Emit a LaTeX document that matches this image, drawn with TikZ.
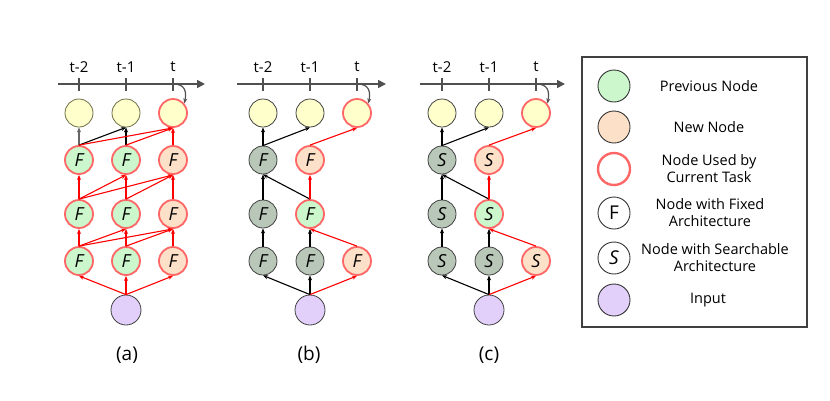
\documentclass[tikz,border=0pt]{standalone}
\usepackage{fontspec}
\setmainfont{Open Sans}
\usepackage{xcolor}
\usepackage{tikz}
\usetikzlibrary{arrows.meta,positioning,calc}

\definecolor{prevgreen}{RGB}{204,247,204}
\definecolor{neworange}{RGB}{253,224,200}
\definecolor{usedred}{RGB}{255,102,102}
\definecolor{outyellow}{RGB}{255,255,204}
\definecolor{outline}{RGB}{110,110,70}
\definecolor{fixgray}{RGB}{184,199,184}
\definecolor{inpurple}{RGB}{226,208,251}
\definecolor{axisgray}{RGB}{80,80,80}

\begin{document}
\begin{tikzpicture}[x=1pt,y=-1pt,
    nd/.style={circle, minimum size=28pt, inner sep=0pt, draw=black!75, line width=0.8pt, font=\fontsize{18}{18}\selectfont\itshape},
    outn/.style={nd, fill=outyellow, draw=outline},
    prev/.style={nd, fill=prevgreen},
    newn/.style={nd, fill=neworange},
    fixn/.style={nd, fill=fixgray},
    inp/.style={nd, fill=inpurple, minimum size=30pt},
    used/.style={draw=usedred, line width=1.8pt},
    arr/.style={-{Stealth[length=5pt,width=4pt]}, line width=1.1pt, black},
    rarr/.style={arr, red},
    taxis/.style={-{Triangle[length=8pt,width=8pt]}, line width=1.6pt, axisgray},
    ttick/.style={line width=1.3pt, axisgray},
    curv/.style={-{Stealth[length=5pt,width=4pt]}, line width=1.2pt, axisgray},
    lbl/.style={font=\fontsize{15}{15}\selectfont},
    subcap/.style={font=\fontsize{19}{19}\selectfont},
    legtext/.style={font=\fontsize{14.5}{17}\selectfont, align=center},
    legc/.style={circle, minimum size=32pt, inner sep=0pt, draw=black!80, line width=0.9pt, font=\fontsize{19}{19}\selectfont}]
    \useasboundingbox (0,0) rectangle (830,400);

    % (a)
    \draw[taxis] (58,84) -- (205,84);
    \foreach \x/\t in {79/t-2,126/t-1,173/t} {
        \draw[ttick] (\x,78) -- (\x,91);
        \node[lbl] at (\x,67) {\t};
    }
    \coordinate (aT) at (173,84);
    \node[outn] (aY1) at (79,113) {};
    \node[outn] (aY2) at (126,113) {};
    \node[outn, used] (aY3) at (173,113) {};
    \node[prev, used] (a11) at (79,160) {F};
    \node[prev, used] (a21) at (126,160) {F};
    \node[newn, used] (a31) at (173,160) {F};
    \node[prev, used] (a12) at (79,214) {F};
    \node[prev, used] (a22) at (126,214) {F};
    \node[newn, used] (a32) at (173,214) {F};
    \node[prev, used] (a13) at (79,261) {F};
    \node[prev, used] (a23) at (126,261) {F};
    \node[newn, used] (a33) at (173,261) {F};
    \node[inp] (ain) at (126,310) {};
    \draw[curv] (aT) .. controls (184,84) and (187,90) .. (aY3.40);
    \draw[arr, black!60] (a11.north) -- (aY1.south);
    \draw[arr] (a11.north) -- (aY2.south);
    \draw[arr] (a21.north) -- (aY2.south);
    \draw[rarr] (a11.north) -- (aY3.south);
    \draw[rarr] (a21.north) -- (aY3.south);
    \draw[rarr] (a31.north) -- (aY3.south);
    \draw[rarr] (a12.north) -- (a11.south);
    \draw[rarr] (a12.north) -- (a21.south);
    \draw[rarr] (a22.north) -- (a21.south);
    \draw[rarr] (a12.north) -- (a31.south);
    \draw[rarr] (a22.north) -- (a31.south);
    \draw[rarr] (a32.north) -- (a31.south);
    \draw[rarr] (a13.north) -- (a12.south);
    \draw[rarr] (a13.north) -- (a22.south);
    \draw[rarr] (a23.north) -- (a22.south);
    \draw[rarr] (a13.north) -- (a32.south);
    \draw[rarr] (a23.north) -- (a32.south);
    \draw[rarr] (a33.north) -- (a32.south);
    \draw[rarr] (ain.north) -- (a13.south);
    \draw[rarr] (ain.north) -- (a23.south);
    \draw[rarr] (ain.north) -- (a33.south);
    \node[subcap] (acap) at (127,355) {(a)};

    % (b)
    \draw[taxis] (237,84) -- (386,84);
    \foreach \x/\t in {263/t-2,310/t-1,357/t} {
        \draw[ttick] (\x,78) -- (\x,91);
        \node[lbl] at (\x,67) {\t};
    }
    \coordinate (bT) at (357,84);
    \node[outn, draw=black!75] (bY1) at (263,113) {};
    \node[outn, draw=black!75] (bY2) at (310,113) {};
    \node[outn, used] (bY3) at (357,113) {};
    \node[fixn] (b11) at (263,160) {F};
    \node[newn, used] (b21) at (310,160) {F};
    \node[fixn] (b12) at (263,214) {F};
    \node[prev, used] (b22) at (310,214) {F};
    \node[fixn] (b13) at (263,261) {F};
    \node[fixn] (b23) at (310,261) {F};
    \node[newn, used] (b33) at (357,261) {F};
    \node[inp] (bin) at (310,310) {};
    \draw[curv] (bT) .. controls (368,84) and (371,90) .. (bY3.40);
    \draw[arr] (b11.north) -- (bY1.south);
    \draw[arr] (b11.north) -- (bY2.south);
    \draw[rarr] (b21.north) -- (bY3.south);
    \draw[arr] (b12.north) -- (b11.south);
    \draw[arr] (b22.north) -- (b11.south);
    \draw[rarr] (b22.north) -- (b21.south);
    \draw[arr] (b13.north) -- (b12.south);
    \draw[arr] (b23.north) -- (b22.south);
    \draw[rarr] (b33.north) -- (b22.south);
    \draw[arr] (bin.north) -- (b13.south);
    \draw[arr] (bin.north) -- (b23.south);
    \draw[rarr] (bin.north) -- (b33.south);
    \node[subcap] (bcap) at (309,355) {(b)};

    % (c)
    \draw[taxis] (420,84) -- (565,84);
    \foreach \x/\t in {442/t-2,489/t-1,536/t} {
        \draw[ttick] (\x,78) -- (\x,91);
        \node[lbl] at (\x,67) {\t};
    }
    \coordinate (cT) at (536,84);
    \node[outn, draw=black!75] (cY1) at (442,113) {};
    \node[outn, draw=black!75] (cY2) at (489,113) {};
    \node[outn, used] (cY3) at (536,113) {};
    \node[fixn] (c11) at (442,160) {S};
    \node[newn, used] (c21) at (489,160) {S};
    \node[fixn] (c12) at (442,214) {S};
    \node[prev, used] (c22) at (489,214) {S};
    \node[fixn] (c13) at (442,261) {S};
    \node[fixn] (c23) at (489,261) {S};
    \node[newn, used] (c33) at (536,261) {S};
    \node[inp] (cin) at (489,310) {};
    \draw[curv] (cT) .. controls (547,84) and (550,90) .. (cY3.40);
    \draw[arr] (c11.north) -- (cY1.south);
    \draw[arr] (c11.north) -- (cY2.south);
    \draw[rarr] (c21.north) -- (cY3.south);
    \draw[arr] (c12.north) -- (c11.south);
    \draw[arr] (c22.north) -- (c11.south);
    \draw[rarr] (c22.north) -- (c21.south);
    \draw[arr] (c13.north) -- (c12.south);
    \draw[arr] (c23.north) -- (c22.south);
    \draw[rarr] (c33.north) -- (c22.south);
    \draw[arr] (cin.north) -- (c13.south);
    \draw[arr] (cin.north) -- (c23.south);
    \draw[rarr] (cin.north) -- (c33.south);
    \node[subcap] (ccap) at (489,355) {(c)};

    % legend
    \node[draw=black!75, line width=1.4pt, minimum width=225pt, minimum height=270pt, inner sep=0pt] (leg) at (694.5,192) {};
    \node[legc, fill=prevgreen] (l1) at (614,86) {};
    \node[legc, fill=neworange] (l2) at (614,127) {};
    \node[legc, draw=usedred, line width=2.4pt] (l3) at (614,169) {};
    \node[legc] (l4) at (614,213) {F};
    \node[legc, font=\fontsize{19}{19}\selectfont\itshape] (l5) at (614,258) {S};
    \node[legc, fill=inpurple] (l6) at (614,300) {};
    \node[legtext] at (709,86) {Previous Node};
    \node[legtext] at (709,127) {New Node};
    \node[legtext] at (709,169) {Node Used by\\Current Task};
    \node[legtext] at (710,213) {Node with Fixed\\Architecture};
    \node[legtext] at (715,258) {Node with Searchable\\Architecture};
    \node[legtext] at (708,300) {Input};
\end{tikzpicture}
\end{document}
